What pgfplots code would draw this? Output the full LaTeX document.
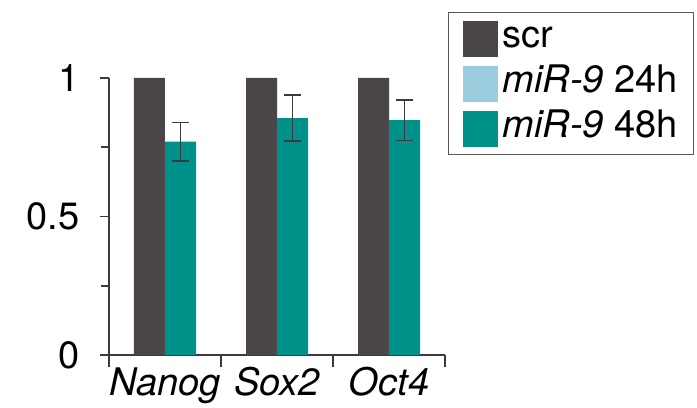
\documentclass[border=0pt]{standalone}
\usepackage{pgfplots}
\usepackage{pgfplotstable}
\pgfplotsset{compat=1.18}
\usepackage{fontspec}
\setmainfont{TeX Gyre Heros}

\definecolor{scrgray}{HTML}{4A4647}
\definecolor{mirlight}{HTML}{9BCDDE}
\definecolor{mirteal}{HTML}{00918B}
\definecolor{axisgray}{HTML}{3A3A3A}

% relative expression: scr control and miR-9 48h (mean, error)
\pgfplotstableread{
idx scr  h48   err
0   1    0.770 0.070
1   1    0.855 0.083
2   1    0.848 0.073
}\expr

% half a bar width in axis units (31bp bars, 112bp per category)
\newcommand{\halfbar}{0.1384}

\pgfplotsset{swatch/.style={legend image code/.code={\fill[##1, draw=none] (0bp,-18bp) rectangle (35bp,18bp);}}}

\newcommand{\bigfont}{\fontsize{38bp}{44bp}\selectfont}

\begin{document}
\begin{tikzpicture}
\path[use as bounding box] (-109bp,-53bp) rectangle (588bp,355bp);
\begin{axis}[
  at={(0,0)}, anchor=south west,
  x=112bp, y=277bp,
  xmin=-0.5, xmax=2.5, ymin=0, ymax=1,
  clip=false,
  axis x line*=bottom, axis y line*=left,
  axis line style={draw=axisgray, line width=1.6bp},
  tick style={draw=axisgray, line width=1.6bp},
  tick align=outside,
  font=\bigfont,
  tick label style={font=\bigfont},
  /pgf/number format/assume math mode=true,
  ytick={0,0.5,1}, minor ytick={0.25,0.75},
  yticklabels={0,0.5,1},
  yticklabel shift=17bp,
  major tick length=9bp, minor tick length=8bp,
  xtick={0,1,2},
  xticklabels={\itshape Nanog,\itshape Sox2,\itshape Oct4},
  major x tick style={draw=none},
  extra x ticks={-0.5,0.5,1.5,2.5},
  extra x tick labels={},
  extra x tick style={major tick length=12bp, major x tick style={draw=axisgray, line width=1.6bp}},
  legend style={
    at={(axis description cs:1.009,1.238)}, anchor=north west,
    draw=black!65, line width=1.4bp,
    inner xsep=14bp, inner ysep=8bp,
    row sep=9bp, column sep=3bp,
    font=\bigfont,
    nodes={inner xsep=2bp, inner ysep=0bp, text height=27bp, text depth=9bp},
  },
  legend cell align=left,
]
\addplot[ybar, bar width=31bp, bar shift=0pt, fill=scrgray, draw=none, swatch]
  table[x expr=\thisrow{idx}-\halfbar, y=scr] {\expr};
\addlegendentry{scr}
\addlegendimage{fill=mirlight, draw=none, swatch}
\addlegendentry{\textit{miR-9} 24h}
\addplot[ybar, bar width=31bp, bar shift=0pt, fill=mirteal, draw=none, swatch,
  error bars/.cd, y dir=both, y explicit,
  error bar style={draw=axisgray, line width=1.5bp},
  error mark options={rotate=90, mark size=8.5bp, draw=axisgray, line width=1.5bp}]
  table[x expr=\thisrow{idx}+\halfbar, y=h48, y error=err] {\expr};
\addlegendentry{\textit{miR-9} 48h}
\end{axis}
\end{tikzpicture}
\end{document}
